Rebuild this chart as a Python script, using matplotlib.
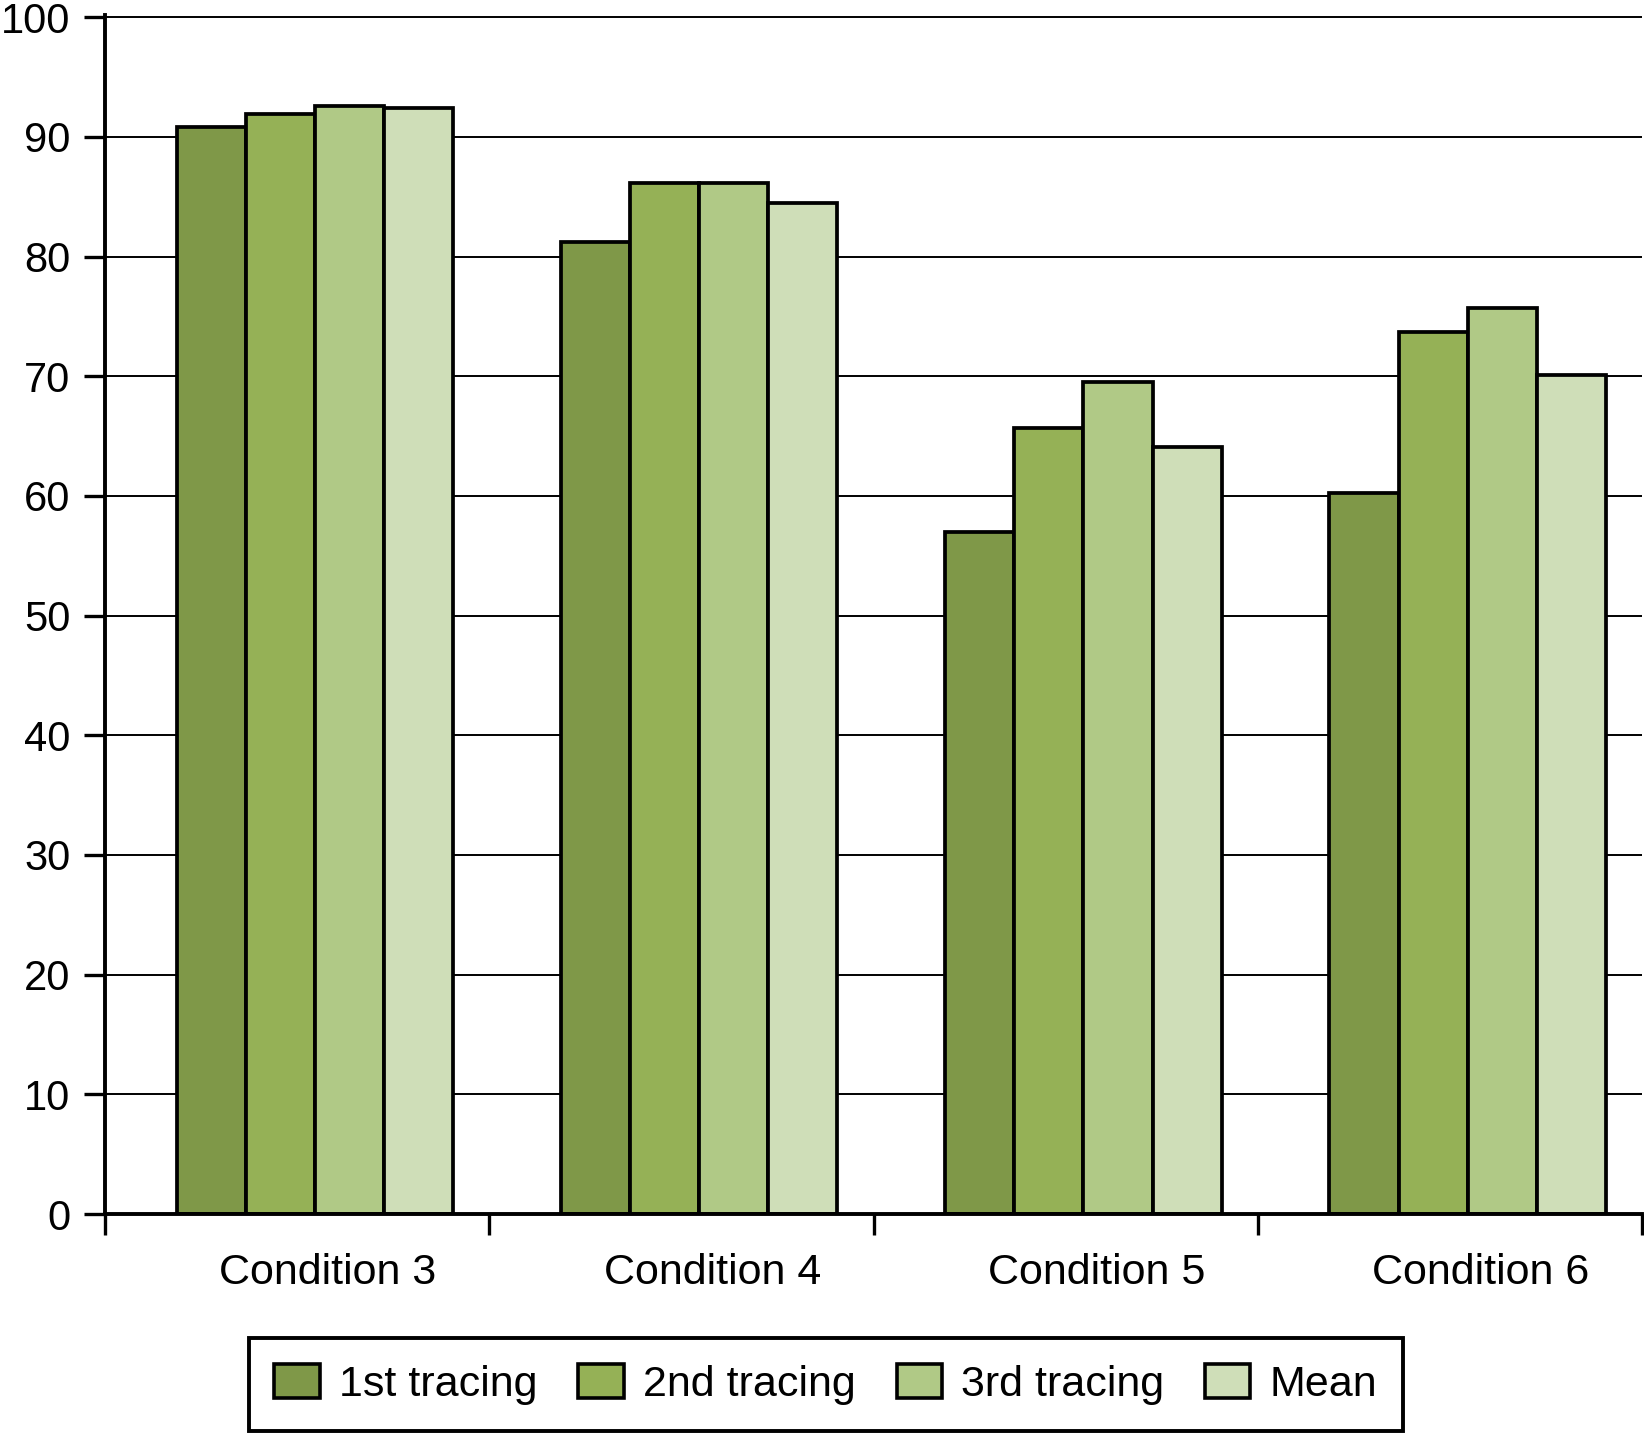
import numpy as np
import matplotlib
matplotlib.use("Agg")
from matplotlib import pyplot as plt

# Data
conditions = ["Condition 3", "Condition 4", "Condition 5", "Condition 6"]
series_names = ["1st tracing", "2nd tracing", "3rd tracing", "Mean"]
first_tracing = [90.8, 81.2, 57.0, 60.2]
second_tracing = [91.9, 86.1, 65.7, 73.7]
third_tracing = [92.6, 86.1, 69.5, 75.7]
mean_values = [92.4, 84.5, 64.1, 70.1]

colors = ["#7f9848", "#95b156", "#b0c986", "#cfdeb8"]

plt.rcParams['font.family'] = ['Liberation Sans', 'DejaVu Sans']

fig = plt.figure(figsize=(16.44, 14.33), dpi=100)
ax = fig.add_axes([0.0639, 0.1528, 0.935, 0.8365])

x = np.arange(len(conditions))
width = 0.18
group_shift = 0.046
all_series = [first_tracing, second_tracing, third_tracing, mean_values]

for i, values in enumerate(all_series):
    offs = group_shift + (i - 1.5) * width
    ax.bar(x + offs, values, width=width, color=colors[i], edgecolor="black",
           linewidth=2.7, label=series_names[i], zorder=3)

ax.set_xlim(-0.5, 3.5)
ax.set_ylim(0, 100.15)
ax.set_yticks(range(0, 101, 10))
ax.tick_params(axis='y', direction='out', length=15, width=2.4, pad=10, labelsize=30)

# category boundaries as major ticks, labels as minor ticks
ax.set_xticks(np.arange(-0.5, 3.6, 1.0))
ax.set_xticklabels([])
ax.set_xticks(x + 0.08, minor=True)
ax.set_xticklabels(conditions, minor=True)
ax.tick_params(axis='x', which='major', direction='out', length=15, width=2.4)
ax.tick_params(axis='x', which='minor', length=0, pad=28, labelsize=31)

ax.yaxis.grid(True, color="black", linewidth=1.4, zorder=0)
ax.set_axisbelow(True)

for side in ['top', 'right']:
    ax.spines[side].set_visible(False)
for side in ['left', 'bottom']:
    ax.spines[side].set_linewidth(2.8)
    ax.spines[side].set_zorder(4)

leg = fig.legend(loc='lower center', bbox_to_anchor=(0.5024, 0.0014), ncol=4,
                 fontsize=31, frameon=True, fancybox=False, edgecolor="black",
                 framealpha=1, handlelength=1.05, handleheight=0.85,
                 handletextpad=0.45, columnspacing=0.95, borderpad=0.6,
                 borderaxespad=0)
leg.get_frame().set_linewidth(2.8)
for h in leg.legend_handles:
    h.set_linewidth(2.6)

fig.savefig("out.png", dpi=100)
